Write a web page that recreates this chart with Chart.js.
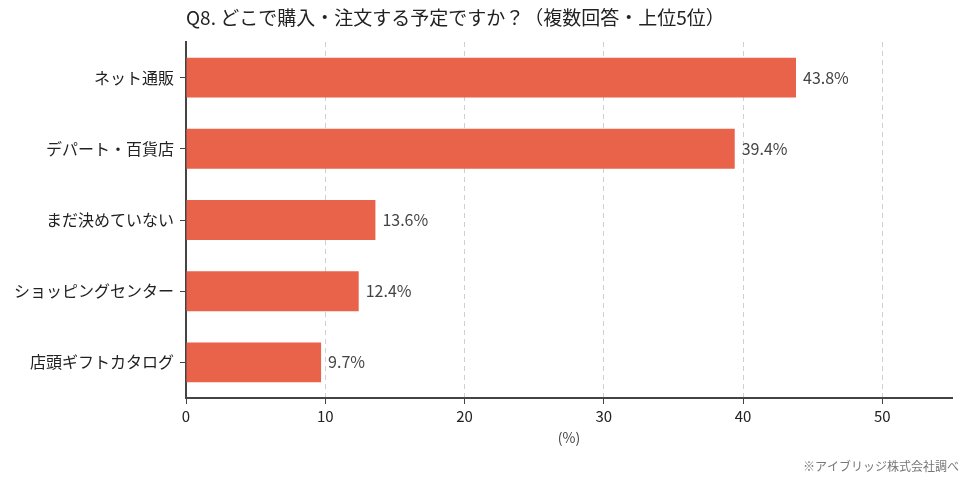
<!DOCTYPE html>
<html lang="ja">
<head>
<meta charset="utf-8">
<script src="https://cdn.jsdelivr.net/npm/chart.js@4"></script>
<style>
  html, body { margin: 0; padding: 0; background: #fff; }
  .wrap { width: 969px; height: 484px; position: relative; }
</style>
</head>
<body>
<div class="wrap"><canvas id="q8Chart"></canvas></div>
<script>
// データ
const categories = ["ネット通販", "デパート・百貨店", "まだ決めていない", "ショッピングセンター", "店頭ギフトカタログ"];
const values = [43.8, 39.4, 13.6, 12.4, 9.7];
const xTicks = [0, 10, 20, 30, 40, 50];

const titleText = "Q8. どこで購入・注文する予定ですか？（複数回答・上位5位）";
const noteText = "※アイブリッジ株式会社調べ";
const FONT = "'Noto Sans CJK JP', 'Noto Sans', sans-serif";

// タイトル・数値ラベル・注記を描くプラグイン
const decorPlugin = {
    id: "decor",
    afterDatasetsDraw(chart) {
        const ctx = chart.ctx;
        const meta = chart.getDatasetMeta(0);
        ctx.save();
        ctx.font = "16px " + FONT;
        ctx.fillStyle = "#444";
        ctx.textAlign = "left";
        ctx.textBaseline = "middle";
        meta.data.forEach((bar, i) => {
            ctx.fillText(values[i].toFixed(1) + "%", bar.x + 7, bar.y);
        });
        ctx.restore();
    },
    afterDraw(chart) {
        const ctx = chart.ctx;
        const area = chart.chartArea;
        ctx.save();
        ctx.font = "19px " + FONT;
        ctx.fillStyle = "#222";
        ctx.textAlign = "left";
        ctx.textBaseline = "middle";
        ctx.fillText(titleText, area.left, 18);

        ctx.font = "12px " + FONT;
        ctx.fillStyle = "#777";
        ctx.textAlign = "right";
        ctx.fillText(noteText, chart.width - 10, 466);
        ctx.restore();
    }
};

const canvas = document.getElementById("q8Chart");
new Chart(canvas.getContext("2d"), {
    type: "bar",
    data: {
        labels: categories,
        datasets: [{
            data: values,
            backgroundColor: "#E9634B",
            borderWidth: 0,
            barPercentage: 0.7,
            categoryPercentage: 0.8
        }]
    },
    options: {
        indexAxis: "y",
        responsive: true,
        maintainAspectRatio: false,
        animation: false,
        layout: { padding: { top: 42, right: 17, left: 0, bottom: 38 } },
        plugins: {
            legend: { display: false },
            tooltip: { enabled: false }
        },
        scales: {
            x: {
                min: 0,
                max: 55,
                afterBuildTicks(scale) {
                    scale.ticks = xTicks.map(v => ({ value: v }));
                },
                afterFit(scale) { scale.height = 48; },
                ticks: {
                    color: "#222",
                    font: { size: 15, family: FONT },
                    padding: 3
                },
                grid: {
                    color: c => (c.tick && c.tick.value === 0) ? "rgba(0,0,0,0)" : "#d0d0d0",
                    lineWidth: 1,
                    drawTicks: true,
                    tickLength: 6,
                    tickColor: "#444",
                    tickBorderDash: []
                },
                border: { color: "#444", width: 2, dash: [5, 4] },
                title: {
                    display: true,
                    text: "(%)",
                    color: "#444",
                    font: { size: 14, family: FONT },
                    padding: { top: 4, bottom: 0 }
                }
            },
            y: {
                afterFit(scale) { scale.width = 186; },
                ticks: {
                    color: "#222",
                    font: { size: 16, family: FONT },
                    padding: 6
                },
                grid: {
                    offset: false,
                    drawOnChartArea: false,
                    drawTicks: true,
                    tickLength: 6,
                    tickColor: "#444"
                },
                border: { color: "#444", width: 2 }
            }
        }
    },
    plugins: [decorPlugin]
});
</script>
</body>
</html>
